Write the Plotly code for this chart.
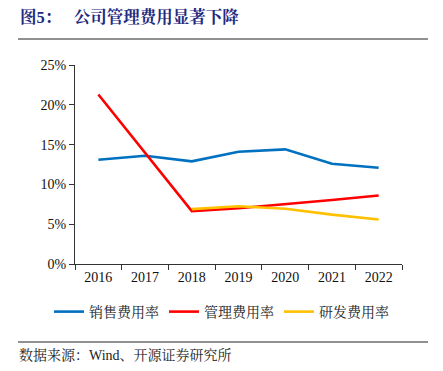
import plotly.graph_objects as go

years = ["2016", "2017", "2018", "2019", "2020", "2021", "2022"]
sales_rate = [13.1, 13.6, 12.9, 14.1, 14.4, 12.6, 12.1]
admin_rate = [21.3, 14.0, 6.65, 7.0, 7.5, 8.05, 8.6]
rd_years = ["2018", "2019", "2020", "2021", "2022"]
rd_rate = [6.9, 7.25, 6.95, 6.2, 5.6]
y_ticks = [0, 5, 10, 15, 20, 25]
y_tick_text = ["0%", "5%", "10%", "15%", "20%", "25%"]

CJK = "Liberation Serif, Noto Serif CJK SC, Noto Sans CJK SC, serif"

fig = go.Figure()
fig.add_trace(go.Scatter(x=years, y=sales_rate, mode="lines", name="销售费用率",
                         line=dict(color="#0070C0", width=2.6)))
fig.add_trace(go.Scatter(x=years, y=admin_rate, mode="lines", name="管理费用率",
                         line=dict(color="#FF0000", width=2.6)))
fig.add_trace(go.Scatter(x=rd_years, y=rd_rate, mode="lines", name="研发费用率",
                         line=dict(color="#FFC000", width=2.6)))

OFF = 8  # page body offset
W, H = 443, 371
# plot area in screen coords
SL, SR, ST, SB = 75, 402, 65, 264
L, T = SL - OFF, ST - OFF
R = W - (SR - OFF)
B = H - (SB - OFF)
pw = W - L - R
ph = H - T - B

def px(x):
    return (x - OFF - L) / pw

def py(y):
    return (H - B - (y - OFF)) / ph

fig.update_layout(
    width=W, height=H,
    margin=dict(l=L, r=R, t=T, b=B, autoexpand=False),
    paper_bgcolor="white", plot_bgcolor="white",
    font=dict(family=CJK, size=13, color="#222222"),
    showlegend=True,
    legend=dict(orientation="h", xref="paper", x=px(49), xanchor="left",
                yref="paper", y=py(312), yanchor="middle",
                font=dict(size=14, family=CJK), itemwidth=30,
                tracegroupgap=0),
    xaxis=dict(type="category", categoryorder="array", categoryarray=years,
               showline=True, linecolor="#333333", linewidth=1,
               ticks="outside", tickson="boundaries", ticklen=5, tickcolor="#333333",
               showgrid=False, zeroline=False, tickfont=dict(size=14, family=CJK, color="#111111"),
               range=[-0.5, 6.5]),
    yaxis=dict(range=[0, 25], tickvals=y_ticks, ticktext=y_tick_text,
               showline=True, linecolor="#333333", linewidth=1,
               ticks="outside", ticklen=5, tickcolor="#333333",
               showgrid=False, zeroline=False, tickfont=dict(size=14, family=CJK, color="#111111")),
    shapes=[
        dict(type="line", xref="paper", yref="paper", x0=px(18), x1=px(428), y0=py(39), y1=py(39),
             line=dict(color="#222222", width=1)),
        dict(type="line", xref="paper", yref="paper", x0=px(18), x1=px(428), y0=py(342), y1=py(342),
             line=dict(color="#222222", width=1)),
    ],
    annotations=[
        dict(text="<b>图5：   公司管理费用显著下降</b>", xref="paper", yref="paper",
             x=px(18), y=py(17), xanchor="left", yanchor="middle", showarrow=False,
             font=dict(size=16.5, color="#1F2A80", family=CJK)),
        dict(text="数据来源：Wind、开源证券研究所", xref="paper", yref="paper",
             x=px(17), y=py(355), xanchor="left", yanchor="middle", showarrow=False,
             font=dict(size=14, color="#222222", family=CJK)),
    ],
)

fig.write_html("out.html")
